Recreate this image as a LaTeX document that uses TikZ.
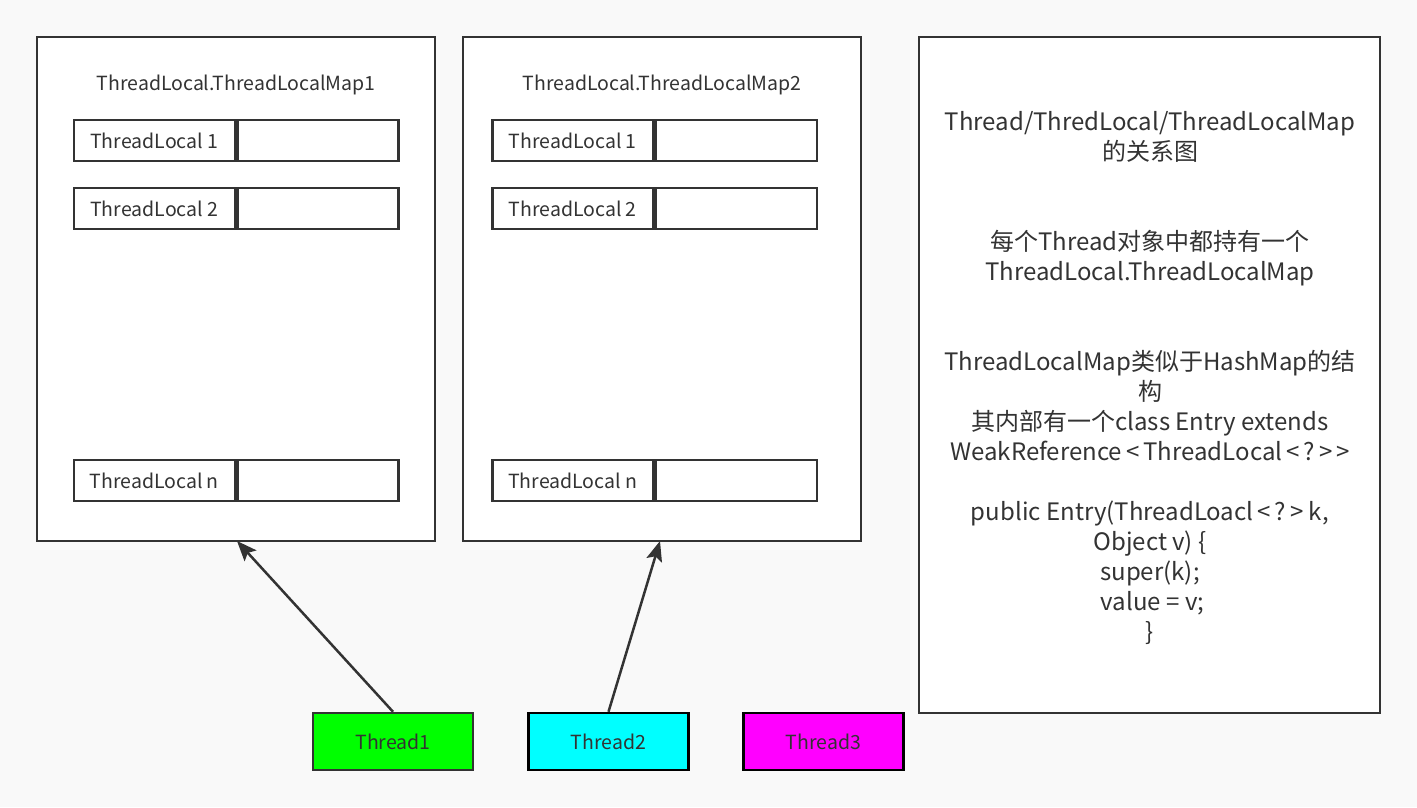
\documentclass[tikz,border=0pt]{standalone}
\usepackage{fontspec}
\setmainfont{Noto Sans CJK SC}
\usetikzlibrary{positioning}
\usetikzlibrary{arrows.meta}

\definecolor{paper}{HTML}{F9F9F9}
\definecolor{ink}{HTML}{333333}
\definecolor{lime}{HTML}{00FF00}
\definecolor{aqua}{HTML}{00FFFF}
\definecolor{fuchsia}{HTML}{FF00FF}

\begin{document}
\begin{tikzpicture}[x = 1pt, y = -1pt, line join = miter,
  mapbox/.style = {draw = ink, line width = 2.5pt, fill = white,
    minimum width = 398pt, minimum height = 504pt, inner sep = 0pt},
  keycell/.style = {draw = ink, line width = 2.5pt, fill = white,
    minimum width = 161pt, minimum height = 41pt, inner sep = 0pt,
    text = ink, font = \fontsize{19.5}{22}\selectfont},
  thread/.style = {line width = 2.5pt, minimum width = 160pt,
    minimum height = 57pt, inner sep = 0pt, text = ink,
    font = \fontsize{19.5}{22}\selectfont},
  link/.style = {draw = ink, line width = 2.5pt,
    -{Stealth[length = 20pt, width = 16pt, inset = 4pt]}}]
  \useasboundingbox (0, 0) rectangle (1417, 807);
  \fill[paper] (0, 0) rectangle (1417, 807);

  % the two maps
  \foreach \m/\x/\c in {1/236/236, 2/662/654.5} {
    \node[mapbox] (map\m) at (\x, 289) {};
    \node[text = ink, font = \fontsize{19.5}{22}\selectfont] (title\m)
    at (\x, 85) {ThreadLocal.ThreadLocalMap\m};
    \foreach \r/\y in {1/140.5, 2/208.5, n/480.5} {
      \node[keycell, anchor = east] (key\m\r) at (\c, \y)
      {ThreadLocal \r};
      \node[keycell, right = 0pt of key\m\r] (val\m\r) {};
    }
  }

  % notes
  \node[draw = ink, line width = 2.5pt, fill = white, minimum width = 461pt,
  minimum height = 676pt, inner sep = 0pt] (note) at (1149.5, 375) {};
  \node[text = ink, align = center, font = \fontsize{24}{30}\selectfont,
  anchor = north] (notetext) at (1150, 108) {%
    Thread/ThredLocal/ThreadLocalMap\\
    的关系图\\[30pt]
    \\
    每个Thread对象中都持有一个\\
    ThreadLocal.ThreadLocalMap\\[30pt]
    \\
    ThreadLocalMap类似于HashMap的结\\
    构\\
    其内部有一个class Entry extends\\
    WeakReference\,<\,ThreadLocal\,<\,?\,>\,>\\
    \\
    public Entry(ThreadLoacl\,<\,?\,> k,\\
    Object v) \{\\
    super(k);\\
    \ value = v;\\
    \}};

  % threads
  \node[thread, draw = ink, fill = lime] (t1) at (393, 741.5) {Thread1};
  \node[thread, draw = black, fill = aqua] (t2) at (608.5, 741.5) {Thread2};
  \node[thread, draw = black, fill = fuchsia] (t3) at (823.5, 741.5)
  {Thread3};

  \coordinate (tip1) at (237, 541);
  \coordinate (tip2) at (660, 541);
  \draw[link] (t1.north) -- (tip1);
  \draw[link] (t2.north) -- (tip2);
\end{tikzpicture}
\end{document}
